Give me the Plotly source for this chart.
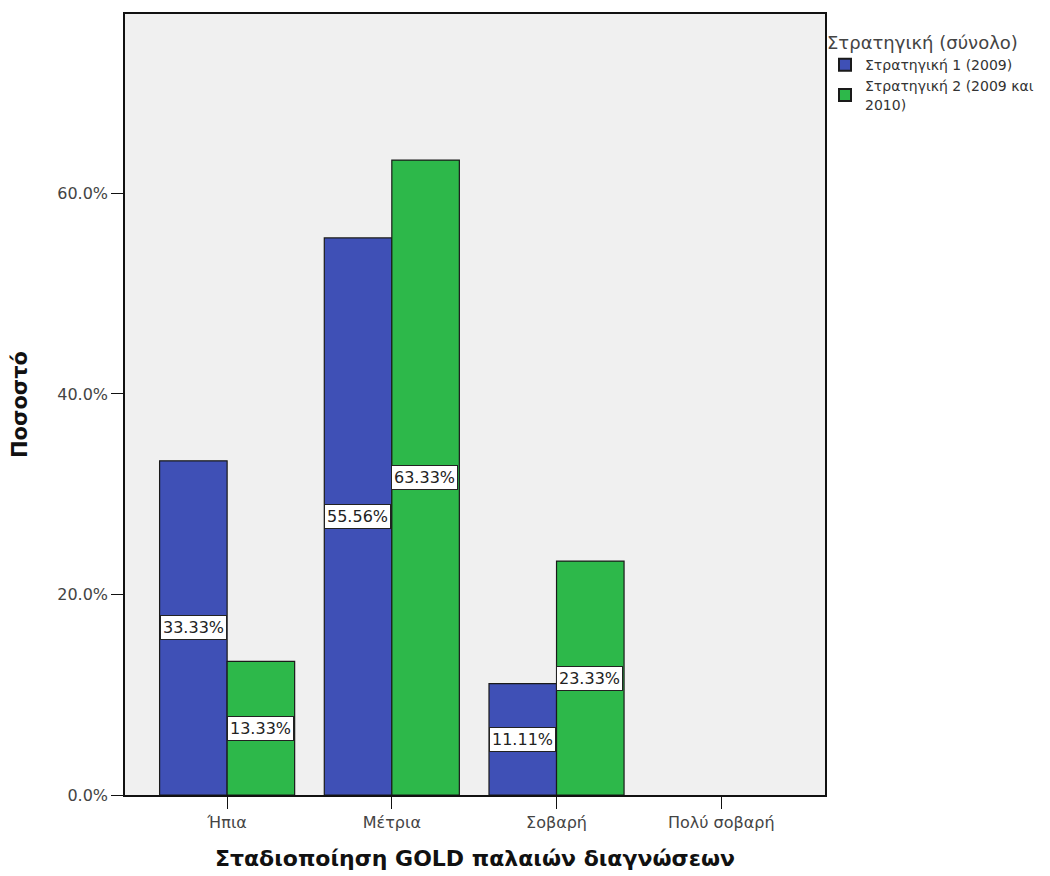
import plotly.graph_objects as go

categories = ["Ήπια", "Μέτρια", "Σοβαρή", "Πολύ σοβαρή"]
series_names = ["Στρατηγική 1 (2009)", "Στρατηγική 2 (2009 και<br>2010)"]
s1_values = [33.33, 55.56, 11.11, None]
s2_values = [13.33, 63.33, 23.33, None]
colors = ["#3F50B6", "#2DB84A"]

FONT = "DejaVu Sans, Liberation Sans, Arial"

fig = go.Figure()
for name, vals, col in zip(series_names, [s1_values, s2_values], colors):
    fig.add_trace(go.Bar(
        x=categories, y=vals, name=name,
        marker=dict(color=col, line=dict(color="#1a1a1a", width=1.2)),
    ))

for vals, shift in [(s1_values, -34), (s2_values, 33)]:
    for c, v in zip(categories, vals):
        if v is None:
            continue
        fig.add_annotation(
            x=c, y=v / 2, xshift=shift, text=f"{v:.2f}%", showarrow=False,
            bgcolor="white", bordercolor="#222", borderwidth=1, borderpad=2,
            font=dict(family=FONT, size=16, color="#222"),
        )

fig.update_layout(
    width=1050, height=876,
    margin=dict(l=117, r=233, t=4, b=89),
    paper_bgcolor="white", plot_bgcolor="#F0F0F0",
    barmode="group", bargap=0.18, bargroupgap=0,
    font=dict(family=FONT, size=15, color="#444"),
    legend=dict(
        x=1.0, y=0.985, xanchor="left", yanchor="top",
        title=dict(text="Στρατηγική (σύνολο)", font=dict(size=18, color="#444")),
        font=dict(size=14, color="#333"), bgcolor="rgba(0,0,0,0)",
        tracegroupgap=0, itemsizing="constant",
    ),
    xaxis=dict(
        title=dict(text="Σταδιοποίηση GOLD παλαιών διαγνώσεων",
                   font=dict(size=22, color="#111", weight="bold"), standoff=20),
        range=[-0.62, 3.63],
        showline=True, linecolor="#111", linewidth=1.5, mirror=True,
        ticks="outside", ticklen=12, tickcolor="#111",
        tickfont=dict(size=16, color="#444"),
    ),
    yaxis=dict(
        title=dict(text="Ποσοστό", font=dict(size=21, color="#111", weight="bold"), standoff=26),
        range=[0, 77.9], tickvals=[0, 20, 40, 60],
        ticktext=["0.0%", "20.0%", "40.0%", "60.0%"],
        showline=True, linecolor="#111", linewidth=1.5, mirror=True,
        ticks="outside", ticklen=12, tickcolor="#111",
        showgrid=False, zeroline=False,
        tickfont=dict(size=16, color="#444"),
    ),
)

fig.write_html("out.html")
